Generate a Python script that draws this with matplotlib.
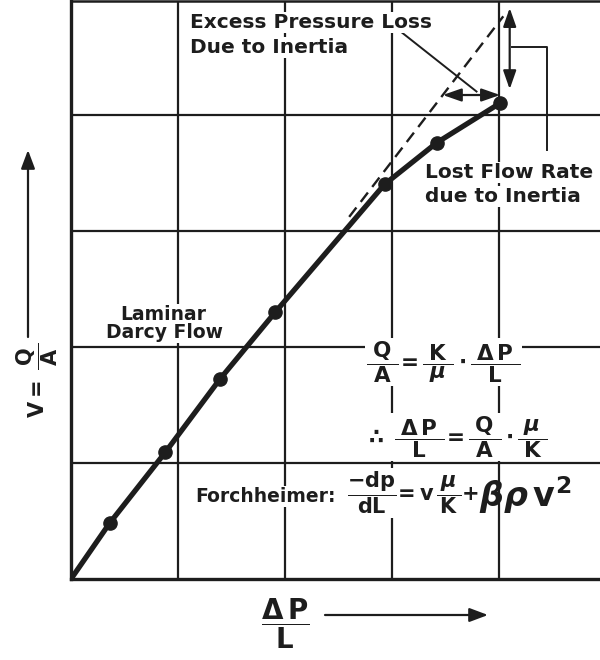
import matplotlib
matplotlib.use("Agg")
import matplotlib.pyplot as plt
from matplotlib.patches import FancyArrowPatch
import numpy as np

# Measured points: pressure gradient (ΔP/L) against superficial velocity (Q/A)
dp_l = [0.36, 0.88, 1.39, 1.91, 2.93, 3.42, 4.01]
velocity = [0.48, 1.09, 1.72, 2.30, 3.40, 3.76, 4.10]
darcy_slope = 1.2          # K/mu, straight Darcy line through the origin
darcy_dash_x = [2.6, 4.04]  # extent of the extrapolated Darcy line
grid_x = [1, 2, 3, 4]
grid_y = [1, 2, 3, 4]

FONT = "DejaVu Sans"
plt.rcParams["font.family"] = FONT
plt.rcParams["font.weight"] = "bold"
plt.rcParams["mathtext.fontset"] = "custom"
plt.rcParams["mathtext.rm"] = FONT + ":bold"
plt.rcParams["mathtext.it"] = FONT + ":bold:italic"
plt.rcParams["mathtext.bf"] = FONT + ":bold"
plt.rcParams["mathtext.sf"] = FONT + ":bold"

INK = "#1d1d1d"
W, H = 600, 660
fig = plt.figure(figsize=(W / 100, H / 100), dpi=100)
fig.patch.set_facecolor("white")

ax = fig.add_axes([71 / W, 81 / H, 535 / W, 578 / H])
ax.set_xlim(0, 5)
ax.set_ylim(0, 4.98)
ax.set_xticks([])
ax.set_yticks([])
for side, lw in (("left", 2.4), ("bottom", 2.4), ("top", 1.8), ("right", 1.8)):
    ax.spines[side].set_linewidth(lw)
    ax.spines[side].set_color(INK)

for g in grid_x:
    ax.axvline(g, color=INK, lw=1.6, zorder=1)
for g in grid_y:
    ax.axhline(g, color=INK, lw=1.6, zorder=1)

# extrapolated Darcy line
xd = np.array(darcy_dash_x)
ax.plot(xd, darcy_slope * xd, color=INK, lw=1.7, ls=(0, (5, 3)), zorder=3)

# measured curve
ax.plot([0] + dp_l, [0] + velocity, color=INK, lw=3.8,
        solid_capstyle="round", solid_joinstyle="round", zorder=4)
ax.plot(dp_l, velocity, "o", ms=9.5, color=INK, zorder=5)

x_end, v_end = dp_l[-1], velocity[-1]


def darrow(p0, p1, style="<|-|>,head_length=0.8,head_width=0.28", ms=14, **kw):
    return FancyArrowPatch(p0, p1, arrowstyle=style, mutation_scale=ms,
                           color=INK, lw=1.6, shrinkA=0, shrinkB=0,
                           clip_on=False, **kw)


# excess pressure loss: horizontal gap to the Darcy line
y_h = v_end + 0.07
ax.add_patch(darrow((y_h / darcy_slope, y_h), (x_end, y_h), zorder=6))
# lost flow rate: vertical gap to the Darcy line
x_v = x_end + 0.09
ax.add_patch(darrow((x_v, v_end + 0.12), (x_v, darcy_slope * x_v), zorder=6))

# leader lines
ax.plot([3.09, 3.79], [4.71, 4.20], color=INK, lw=1.4, zorder=6, clip_on=False)
ax.plot([x_v + 0.02, 4.45, 4.45], [4.58, 4.58, 3.70], color=INK, lw=1.4,
        zorder=6, clip_on=False)

BOX = dict(facecolor="white", edgecolor="none", pad=1.0)


def ptext(x, y, s, **kw):
    kw.setdefault("color", INK)
    return fig.text(x / W, 1 - y / H, s, **kw)


ptext(190, 28, "Excess Pressure Loss", size=14.5, ha="left", va="baseline", bbox=BOX)
ptext(190, 53, "Due to Inertia", size=14.5, ha="left", va="baseline", bbox=BOX)
ptext(425, 178, "Lost Flow Rate", size=14.5, ha="left", va="baseline", bbox=BOX)
ptext(425, 202, "due to Inertia", size=14.5, ha="left", va="baseline", bbox=BOX)
ptext(163, 320, "Laminar", size=13.5, ha="center", va="baseline", bbox=BOX)
ptext(165, 338, "Darcy Flow", size=13.5, ha="center", va="baseline", bbox=BOX)

ptext(366, 362, r"$\dfrac{\;\mathrm{Q}\;}{\mathrm{A}}\!{=}\dfrac{\;\mathrm{K}\;}{\mu}"
      r"\,{\bullet}\,\dfrac{\;\Delta\,\mathrm{P}\;}{\mathrm{L}}$",
      size=15.5, ha="left", va="center", bbox=BOX)
ptext(364, 437, r"$\therefore\;\dfrac{\;\Delta\,\mathrm{P}\;}{\mathrm{L}}\!{=}"
      r"\dfrac{\;\mathrm{Q}\;}{\mathrm{A}}\,{\bullet}\,\dfrac{\;\mu\;}{\mathrm{K}}$",
      size=15.5, ha="left", va="center", bbox=BOX)
ptext(195, 502, "Forchheimer:", size=13.5, ha="left", va="baseline", bbox=BOX)
ptext(347, 493, r"$\dfrac{-\mathrm{dp}}{\mathrm{dL}}\!{=}\mathrm{v}\,"
      r"\dfrac{\,\mu\,}{\mathrm{K}}{+}$",
      size=15, ha="left", va="center", bbox=BOX)
ptext(479, 507, r"$\beta\rho\,\mathrm{v}^{2}$", size=24, ha="left",
      va="baseline")

# axis labels with direction arrows
ptext(37, 380, r"$\mathrm{V}{=}\;\dfrac{\,\mathrm{Q}\,}{\mathrm{A}}$", size=15,
      rotation=90, ha="center", va="center")
ptext(285, 624, r"$\dfrac{\Delta\,\mathrm{P}}{\mathrm{L}}$", size=20,
      ha="center", va="center")

one = "-|>,head_length=0.8,head_width=0.3"
fig.add_artist(FancyArrowPatch((28 / W, 1 - 337 / H), (28 / W, 1 - 150 / H),
                               transform=fig.transFigure, arrowstyle=one,
                               mutation_scale=14, color=INK, lw=1.6,
                               shrinkA=0, shrinkB=0))
fig.add_artist(FancyArrowPatch((325 / W, 1 - 615 / H), (488 / W, 1 - 615 / H),
                               transform=fig.transFigure, arrowstyle=one,
                               mutation_scale=14, color=INK, lw=1.6,
                               shrinkA=0, shrinkB=0))

fig.savefig("out.png", dpi=100, facecolor="white")
